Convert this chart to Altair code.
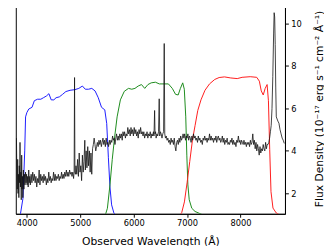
import altair as alt
import pandas as pd

# ---- data ----
x_ticks = [4000, 5000, 6000, 7000, 8000]
y_ticks = [2, 4, 6, 8, 10]

spec_wave = [
    3805, 3812, 3820, 3828, 3835, 3842, 3850, 3858, 3865, 3872,
    3880, 3888, 3895, 3903, 3910, 3918, 3925, 3935, 3945, 3955,
    3965, 3975, 3985, 3995, 4005, 4015, 4025, 4035, 4045, 4055,
    4065, 4080, 4095, 4110, 4125, 4140, 4155, 4170, 4185, 4200,
    4215, 4230, 4245, 4260, 4275, 4290, 4305, 4320, 4335, 4350,
    4365, 4380, 4395, 4410, 4425, 4440, 4455, 4470, 4485, 4500,
    4515, 4530, 4545, 4560, 4575, 4590, 4605, 4620, 4635, 4650,
    4665, 4680, 4695, 4710, 4725, 4740, 4755, 4770, 4785, 4800,
    4815, 4830, 4845, 4860, 4875, 4885, 4893, 4900, 4910, 4920,
    4935, 4950, 4965, 4980, 4995, 5010, 5025, 5040, 5055, 5070,
    5085, 5095, 5110, 5125, 5140, 5155, 5170, 5185, 5200, 5215,
    5230, 5245, 5260, 5275, 5290, 5305, 5320, 5335, 5350, 5365,
    5380, 5395, 5410, 5425, 5440, 5455, 5470, 5485, 5500, 5515,
    5530, 5545, 5560, 5575, 5590, 5605, 5620, 5635, 5650, 5665,
    5680, 5695, 5710, 5725, 5740, 5755, 5770, 5785, 5800, 5815,
    5830, 5845, 5860, 5875, 5890, 5905, 5920, 5935, 5950, 5965,
    5980, 5995, 6010, 6025, 6040, 6055, 6070, 6085, 6100, 6115,
    6130, 6145, 6160, 6175, 6190, 6205, 6220, 6235, 6250, 6265,
    6280, 6295, 6310, 6325, 6340, 6355, 6370, 6380, 6392, 6400,
    6410, 6420, 6435, 6450, 6465, 6478, 6488, 6500, 6515, 6530,
    6545, 6560, 6572, 6582, 6595, 6610, 6625, 6640, 6655, 6670,
    6685, 6700, 6715, 6730, 6745, 6760, 6775, 6790, 6805, 6820,
    6835, 6850, 6865, 6880, 6895, 6910, 6925, 6940, 6955, 6970,
    6985, 7000, 7015, 7030, 7045, 7060, 7075, 7090, 7105, 7120,
    7135, 7150, 7165, 7180, 7195, 7210, 7225, 7240, 7255, 7270,
    7285, 7300, 7315, 7330, 7345, 7360, 7375, 7390, 7405, 7420,
    7435, 7450, 7465, 7480, 7495, 7510, 7525, 7540, 7555, 7570,
    7585, 7600, 7615, 7630, 7645, 7660, 7675, 7690, 7705, 7720,
    7735, 7750, 7765, 7780, 7795, 7810, 7825, 7840, 7855, 7870,
    7885, 7900, 7915, 7930, 7945, 7960, 7975, 7990, 8005, 8020,
    8035, 8050, 8065, 8080, 8095, 8110, 8125, 8140, 8155, 8170,
    8185, 8200, 8215, 8230, 8245, 8260, 8275, 8290, 8305, 8320,
    8335, 8350, 8365, 8380, 8395, 8410, 8425, 8440, 8455, 8470,
    8485, 8500, 8515, 8530, 8545, 8560, 8575, 8590, 8605, 8620,
    8630, 8640, 8650, 8660, 8670, 8685, 8700, 8720, 8740, 8760,
    8780, 8800, 8820,
]
spec_flux = [
    4.6, 3.2, 2.2, 3.6, 2.0, 2.9, 1.8, 3.3, 2.5, 4.4,
    2.3, 3.0, 1.7, 3.8, 2.2, 2.8, 1.8, 3.1, 2.2, 2.9,
    2.4, 3.0, 2.5, 2.9, 2.4, 2.8, 2.3, 3.1, 2.5, 2.8,
    2.4, 2.9, 2.5, 3.0, 2.6, 2.9, 2.5, 2.8, 2.3, 2.7,
    2.5, 3.1, 2.4, 2.9, 2.6, 2.8, 2.5, 2.9, 2.6, 2.8,
    2.4, 2.7, 2.5, 3.0, 2.6, 2.8, 2.5, 2.7, 2.6, 3.0,
    2.6, 2.9, 2.6, 2.8, 2.7, 2.9, 2.6, 2.8, 2.7, 3.0,
    2.7, 2.9, 2.7, 3.0, 2.8, 3.1, 2.8, 3.0, 2.8, 3.1,
    2.9, 3.0, 2.8, 3.0, 2.7, 3.0, 7.45, 3.0, 2.9, 3.3,
    2.9, 3.6, 2.8, 3.9, 3.0, 3.3, 2.6, 3.8, 3.0, 3.5,
    4.5, 3.1, 4.0, 3.2, 4.2, 3.3, 4.0, 3.0, 3.9, 2.9,
    4.1, 4.3, 4.6, 4.3, 4.0, 4.2, 4.4, 4.2, 4.5, 4.3,
    4.5, 4.2, 4.4, 4.6, 4.3, 4.5, 4.2, 4.6, 4.3, 4.4,
    4.2, 4.5, 4.3, 4.5, 4.4, 4.7, 4.5, 4.6, 4.3, 4.6,
    4.8, 4.5, 4.7, 4.5, 4.8, 4.6, 4.8, 4.5, 4.9, 4.7,
    4.9, 4.6, 4.8, 4.7, 5.1, 4.8, 5.0, 4.7, 5.1, 4.8,
    5.0, 4.7, 5.1, 4.8, 5.0, 4.7, 4.9, 4.6, 5.0, 4.8,
    5.1, 4.8, 4.9, 4.7, 4.9, 4.6, 4.8, 4.7, 4.9, 4.6,
    4.8, 4.7, 4.9, 4.6, 4.8, 4.7, 4.9, 4.7, 5.9, 4.8,
    4.9, 4.6, 4.8, 4.7, 4.9, 6.45, 4.7, 4.9, 4.8, 4.6,
    4.8, 4.9, 9.05, 4.8, 4.6, 4.7, 4.5, 4.6, 4.4, 4.5,
    4.3, 4.6, 4.4, 4.5, 4.3, 4.6, 4.2, 4.0, 4.4, 4.5,
    4.3, 4.6, 4.4, 4.7, 4.5, 4.6, 4.8, 4.6, 4.8, 4.5,
    4.7, 4.6, 4.8, 4.5, 4.7, 4.6, 4.4, 4.7, 4.5, 4.8,
    4.6, 4.7, 4.5, 4.6, 4.4, 4.7, 4.5, 4.6, 4.4, 4.5,
    4.3, 4.6, 4.5, 4.7, 4.5, 4.6, 4.4, 4.6, 4.5, 4.8,
    4.5, 4.7, 4.5, 4.6, 4.4, 4.6, 4.5, 4.7, 4.4, 4.6,
    4.7, 4.5, 4.6, 4.4, 4.5, 4.7, 4.4, 4.6, 4.3, 4.5,
    4.4, 4.6, 4.3, 4.4, 4.3, 4.5, 4.4, 4.6, 4.3, 4.5,
    4.3, 4.4, 4.2, 4.5, 4.4, 4.7, 4.4, 4.5, 4.3, 4.5,
    4.4, 4.3, 4.5, 4.3, 4.4, 4.2, 4.4, 4.3, 4.4, 4.2,
    4.5, 4.3, 4.4, 4.8, 4.3, 4.5, 4.1, 4.4, 4.0, 4.3,
    4.1, 3.8, 4.2, 3.9, 4.1, 4.0, 4.3, 4.1, 4.0, 4.4,
    4.1, 4.3, 4.3, 4.4, 4.6, 4.9, 5.2, 6.0, 7.5, 9.5,
    10.5, 10.3, 9.0, 7.0, 5.6, 5.5, 5.4, 5.3, 5.0, 4.8,
    4.6, 4.5, 4.35,
]

blue_wave = [3850, 3878, 3927, 3960, 3976, 4000, 4036, 4097, 4140, 4200,
             4261, 4310, 4365, 4413, 4456, 4505, 4547, 4608, 4669, 4730,
             4809, 4900, 4973, 5040, 5094, 5155, 5216, 5277, 5337, 5398,
             5459, 5495, 5526, 5556, 5587, 5629, 5690]
blue_thru = [0.9, 1.0, 1.77, 4.0, 5.6, 5.8, 5.97, 6.05, 6.36, 6.43,
             6.43, 6.5, 6.58, 6.69, 6.4, 6.4, 6.5, 6.54, 6.66, 6.79,
             6.85, 6.88, 6.94, 7.05, 6.9, 6.9, 6.94, 6.82, 6.5, 6.05,
             5.93, 5.29, 3.7, 2.3, 1.46, 1.08, 0.9]

green_wave = [5459, 5508, 5556, 5599, 5641, 5690, 5751, 5824, 5903, 5964,
              6024, 6085, 6146, 6207, 6267, 6328, 6407, 6480, 6571, 6650,
              6723, 6784, 6833, 6875, 6918, 6948, 6975, 6995, 7015, 7040,
              7088, 7149, 7240, 7331]
green_thru = [0.9, 1.3, 2.4, 3.6, 4.6, 5.6, 6.4, 6.8, 6.94, 6.9,
              6.94, 7.05, 7.12, 6.94, 7.12, 7.2, 7.23, 7.15, 7.15, 7.15,
              6.94, 6.66, 6.63, 6.94, 7.2, 6.9, 5.6, 3.8, 2.4, 1.7,
              1.3, 1.15, 1.05, 0.95]

red_wave = [6845, 6900, 6950, 7000, 7050, 7100, 7150, 7200, 7260, 7335,
            7420, 7518, 7600, 7700, 7818, 7939, 8030, 8182, 8304, 8353,
            8389, 8426, 8462, 8498, 8523, 8547, 8571, 8608, 8669, 8760]
red_thru = [0.9, 1.1, 1.6, 2.5, 3.5, 4.5, 5.2, 5.9, 6.4, 6.85,
            7.15, 7.36, 7.45, 7.48, 7.43, 7.4, 7.46, 7.49, 7.46, 7.28,
            6.82, 6.63, 6.94, 7.12, 6.36, 4.06, 2.08, 1.31, 1.08, 0.95]

band_names = ["blue", "green", "red"]
band_colors = ["#1a1aff", "#1a8a1a", "#ff1a1a"]

# ---- tables ----
spec = pd.DataFrame({"wave": spec_wave, "flux": spec_flux})
filt = pd.concat([
    pd.DataFrame({"wave": blue_wave, "flux": blue_thru, "band": "blue"}),
    pd.DataFrame({"wave": green_wave, "flux": green_thru, "band": "green"}),
    pd.DataFrame({"wave": red_wave, "flux": red_thru, "band": "red"}),
], ignore_index=True)

FONT = "DejaVu Sans"

x_enc = alt.X(
    "wave:Q",
    scale=alt.Scale(domain=[3793, 8833], nice=False, zero=False),
    axis=alt.Axis(values=x_ticks, format="d", title="Observed Wavelength (Å)",
                  labelFontSize=8.5, titleFontSize=11, tickSize=3.5,
                  labelPadding=2, titlePadding=8, grid=False,
                  titleFontWeight="normal", labelFont=FONT, titleFont=FONT),
)
y_enc = alt.Y(
    "flux:Q",
    scale=alt.Scale(domain=[1.04, 10.95], nice=False, zero=False),
    axis=alt.Axis(orient="right", values=y_ticks, format="d",
                  title="Flux Density (10⁻¹⁷ erg s⁻¹ cm⁻² Å⁻¹)",
                  titleAngle=270, titleAlign="center", titleBaseline="middle",
                  titleX=35, titleY=108,
                  labelFontSize=8.5, titleFontSize=11,
                  tickSize=3.5, labelPadding=2.5, grid=False,
                  titleFontWeight="normal", labelFont=FONT, titleFont=FONT),
)

filters = alt.Chart(filt).mark_line(strokeWidth=1.0, clip=True).encode(
    x=x_enc, y=y_enc,
    color=alt.Color("band:N", scale=alt.Scale(domain=band_names, range=band_colors), legend=None),
)
spectrum = alt.Chart(spec).mark_line(strokeWidth=0.8, color="#111111", clip=True).encode(
    x=x_enc, y=y_enc,
)

chart = alt.layer(filters, spectrum).properties(
    width=276, height=216,
    autosize=alt.AutoSizeParams(type="none"),
    padding={"left": 8, "top": -8, "right": 40, "bottom": 30},
).configure(
    background="white",
).configure_view(
    stroke="black", strokeWidth=1,
).configure_axis(
    labelColor="black", titleColor="black",
    tickColor="black", domainColor="black",
)

chart.save("out.html", embed_options={"renderer": "svg", "actions": False})
